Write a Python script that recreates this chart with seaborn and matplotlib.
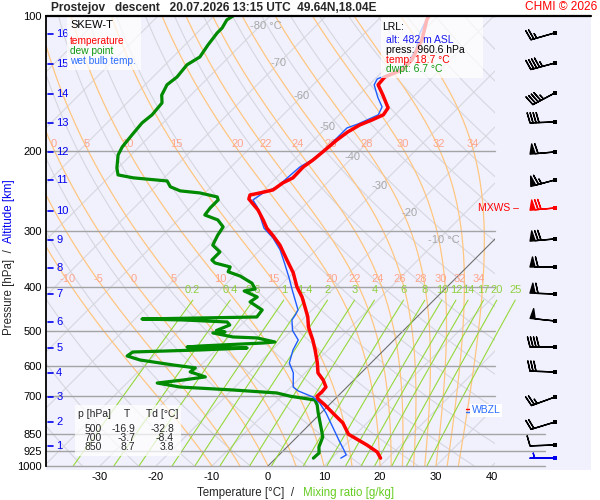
import numpy as np
import pandas as pd
import matplotlib
matplotlib.use("Agg")
import matplotlib.pyplot as plt
import seaborn as sns
from matplotlib.patches import Rectangle
from matplotlib.lines import Line2D
from matplotlib.transforms import blended_transform_factory, offset_copy

# ---- sounding (descent) ----
temp_p = [100.0, 102.0, 105.5, 113.0, 119.0, 125.2, 131.8, 136.6, 142.2, 149.9,
          160.0, 165.8, 170.2, 174.6, 181.0, 188.5, 200.5, 208.9, 216.5, 228.9,
          234.9, 243.5, 247.3, 249.9, 255.0, 261.5, 269.8, 283.9, 296.0, 306.8,
          323.0, 348.5, 372.0, 400.0, 421.1, 443.1, 466.5, 491.0, 524.8, 552.3,
          590.0, 621.0, 644.0, 667.6, 684.6, 700.0, 709.8, 732.1, 762.4, 802.5,
          850.0, 898.0, 930.9, 960.6]
temp_t = [-51.6, -51.3, -50.4, -48.6, -47.7, -46.8, -46.8, -48.6, -48.4, -45.7,
          -42.5, -42.1, -43.2, -44.5, -45.4, -45.9, -46.3, -46.6, -47.1, -47.0,
          -47.9, -48.4, -50.2, -51.6, -51.1, -49.5, -47.5, -44.8, -42.7, -40.4,
          -37.3, -33.4, -30.0, -26.8, -24.1, -21.8, -19.5, -17.6, -14.5, -12.3,
          -9.6, -7.7, -5.5, -3.75, -3.6, -3.7, -3.0, -0.7, 2.1, 5.7,
          8.7, 13.9, 17.0, 18.7]

wetbulb_p = [100.0, 102.0, 109.0, 119.0, 126.5, 133.2, 138.0, 142.2, 151.5, 159.2,
             165.8, 170.2, 173.8, 177.3, 186.6, 200.5, 208.9, 216.5, 228.9, 239.6,
             247.3, 256.3, 265.5, 279.2, 296.0, 311.5, 331.1, 354.7, 382.1, 406.3,
             427.6, 450.0, 461.4, 473.7, 500.0, 524.8, 552.3, 590.0, 621.0, 667.6,
             681.1, 702.5, 724.6, 762.4, 819.3, 875.4, 921.4, 945.2, 960.6]
wetbulb_t = [-51.8, -51.4, -50.2, -47.9, -47.1, -47.7, -49.6, -49.1, -46.25, -43.75,
             -43.0, -44.1, -45.0, -46.25, -46.25, -46.4, -46.8, -47.7, -48.0, -48.2,
             -49.6, -50.2, -48.2, -45.9, -43.2, -39.8, -36.4, -33.2, -29.8, -27.1,
             -24.8, -22.5, -22.1, -21.8, -19.8, -17.1, -16.25, -14.6, -12.1, -9.6,
             -8.0, -4.3, -2.0, 0.9, 4.6, 8.0, 10.7, 12.0, 11.6]

dewpt_p = [100.0, 102.0, 106.3, 109.0, 115.9, 123.3, 128.4, 136.6, 142.2, 149.9,
           156.0, 165.8, 172.8, 183.8, 195.4, 203.6, 217.6, 225.5, 228.9, 232.6,
           239.6, 244.7, 247.3, 252.4, 256.3, 267.1, 276.8, 283.9, 294.2, 306.8,
           323.0, 334.5, 348.5, 353.9, 361.1, 370.1, 378.3, 392.4, 404.3, 408.4,
           421.1, 431.9, 450.0, 466.5, 468.9, 471.3, 473.7, 478.6, 486.0, 500.0,
           503.7, 506.2, 516.7, 519.3, 530.2, 533.0, 541.2, 544.0, 546.8, 552.3,
           558.0, 569.5, 581.3, 596.3, 605.3, 617.8, 633.9, 644.0, 654.0, 667.6,
           677.8, 688.1, 700.0, 713.4, 732.1, 762.4, 819.3, 862.0, 907.4, 935.6,
           960.6]
dewpt_t = [-86.6, -87.0, -86.4, -86.4, -85.9, -85.2, -86.1, -85.7, -86.1, -85.2,
           -83.75, -83.4, -83.75, -83.4, -83.0, -82.3, -80.2, -78.75, -75.5, -68.9,
           -67.3, -64.8, -60.9, -57.1, -56.4, -56.4, -56.1, -52.9, -50.7, -50.2,
           -49.3, -46.8, -46.8, -45.7, -42.3, -41.8, -38.9, -35.5, -33.9, -35.5,
           -32.1, -32.5, -28.9, -28.6, -38.6, -48.75, -41.25, -33.0, -32.0, -33.4,
           -31.6, -33.6, -29.3, -24.8, -20.9, -22.9, -33.6, -35.7, -24.8, -32.9,
           -44.5, -44.8, -41.8, -35.0, -30.5, -30.7, -27.1, -30.5, -34.6, -29.8,
           -19.8, -11.5, -8.4, -3.4, -2.1, -0.5, 2.5, 4.6, 5.7, 6.8,
           6.7]

# launch / lowest level info
lrl_alt = 482
lrl_press = 960.6
lrl_temp = 18.7
lrl_dwpt = 6.7
wbzl_p = 752.0

# altitude scale (km) and its pressure
alt_km = [16, 15, 14, 13, 12, 11, 10, 9, 8, 7, 6, 5, 4, 3, 2, 1]
alt_p = [109.6, 127.8, 149.0, 172.8, 200.5, 231.4, 271.2, 314.6, 363.0, 414.7,
         478.6, 546.7, 621.3, 702.5, 798.4, 902.7]

# wind
wind_p = [109.0, 127.2, 148.2, 172.0, 200.5, 231.4, 267.1, 312.9, 361.2, 414.7,
          476.1, 543.9, 618.1, 702.5, 798.4, 898.1, 960.6]
wind_dir = [254, 255, 242, 268, 265, 255, 265, 265, 270, 272, 276, 270, 272, 250, 253, 268, 270]
wind_spd = [25, 45, 45, 40, 60, 65, 70, 70, 60, 60, 50, 40, 30, 25, 20, 10, 5]
mxws_idx = 6

# table
table_p = [500, 700, 850]
table_t = [-16.9, -3.7, 8.7]
table_td = [-32.8, -8.4, 3.8]

# diagram lines
p_levels = [200, 300, 400, 500, 600, 700, 850, 925, 1000]
p_long = [850, 925, 1000]
t_ticks = [-30, -20, -10, 0, 10, 20, 30, 40]
isotherms = list(range(-130, 50, 10))
iso_label_t = [-80, -70, -60, -50, -40, -30, -20, -10]
iso_label_p = [105.5, 127.4, 150.7, 176.4, 205.9, 238.8, 273.7, 314.6]
dry_theta = list(range(230, 470, 10))
theta_w = [-10, -5, 0, 5, 10, 15, 20, 22, 24, 26, 28, 30, 32, 34]
theta_w_label_p = [200, 400]
mix_ratio = [0.2, 0.4, 0.6, 1, 1.4, 2, 3, 4, 6, 8, 10, 12, 14, 17, 20, 25]
mix_top_p = 428.0
mix_label_p = 416.0

SKEW = 195.4 / 5.6
X_LEFT = (46 - 268) / 5.6
X_RIGHT = (495 - 268) / 5.6


def skew_x(t, p):
    return np.asarray(t, float) + SKEW * np.log(1000.0 / np.asarray(p, float))


def fx(x):
    return x / 600.0


def fy(y):
    return 1.0 - y / 500.0


def moist_adiabats(thw, pg):
    rd, cp, lv, eps = 287.04, 1005.7, 2.501e6, 0.622

    def slope(tk, p):
        es = 6.112 * np.exp(17.67 * (tk - 273.15) / (tk - 29.65))
        rs = eps * es / (p - es)
        return (rd * tk + lv * rs) / (cp + lv * lv * rs * eps / (rd * tk * tk))

    tk = np.asarray(thw, float) + 273.15
    out = [tk.copy()]
    lp = np.log(pg)
    for i in range(1, len(pg)):
        h = lp[i] - lp[i - 1]
        p0, p1, pm = pg[i - 1], pg[i], np.exp(0.5 * (lp[i] + lp[i - 1]))
        k1 = slope(tk, p0)
        k2 = slope(tk + 0.5 * h * k1, pm)
        k3 = slope(tk + 0.5 * h * k2, pm)
        k4 = slope(tk + h * k3, p1)
        tk = tk + h * (k1 + 2 * k2 + 2 * k3 + k4) / 6.0
        out.append(tk.copy())
    return np.array(out) - 273.15


def dewpoint_from_w(w, p):
    e = w * p / (622.0 + w)
    a = np.log(e / 6.112)
    return 243.5 * a / (17.67 - a)


sns.set_theme(style="white")
plt.rcParams['font.family'] = ['Liberation Sans', 'DejaVu Sans']

fig = plt.figure(figsize=(6, 5), dpi=100)
fig.patch.set_facecolor('white')
fig.add_artist(Rectangle((fx(46), fy(470)), fx(591) - fx(46), fy(16) - fy(470),
                         transform=fig.transFigure, facecolor='#f1f1fe',
                         edgecolor='none', zorder=-5))

ax = fig.add_axes([fx(46), fy(466), fx(495) - fx(46), fy(16) - fy(466)])
ax.set_facecolor('none')
ax.set_yscale('log')
ax.set_ylim(1000, 100)
ax.set_xlim(X_LEFT, X_RIGHT)

pg = np.exp(np.linspace(np.log(1000), np.log(100), 181))

# isotherms
for t in isotherms:
    c, lw = ('#6e6e6e', 0.8) if t == 0 else ('#d6d6de', 0.8)
    ax.plot(skew_x(np.full_like(pg, t), pg), pg, color=c, lw=lw, zorder=1.2 if t == 0 else 1)

# dry adiabats
for th in dry_theta:
    tt = th * (pg / 1000.0) ** 0.2857 - 273.15
    ax.plot(skew_x(tt, pg), pg, color='#d6d6de', lw=0.8, zorder=1)

# moist adiabats
ma = moist_adiabats(theta_w, pg)
label_shift = {200: -1, 400: -3}
for j, thw in enumerate(theta_w):
    ax.plot(skew_x(ma[:, j], pg), pg, color='#ffc680', lw=0.9, zorder=1.1)
    for lp in theta_w_label_p:
        tl = np.interp(np.log(lp), np.log(pg[::-1]), ma[::-1, j])
        xl = skew_x(tl, lp)
        if X_LEFT + 1 < xl < X_RIGHT:
            ax.annotate(f'{thw}', (xl, lp), xytext=(label_shift[lp], 2),
                        textcoords='offset points', ha='center', va='bottom',
                        color='#ffa58c', fontsize=8, zorder=2)

# mixing ratio lines
pm = np.exp(np.linspace(np.log(1000), np.log(mix_top_p), 60))
for w in mix_ratio:
    ax.plot(skew_x(dewpoint_from_w(w, pm), pm), pm, color='#95d83a', lw=0.8,
            zorder=1.3, clip_on=False)
    xl = skew_x(dewpoint_from_w(w, mix_top_p), mix_top_p)
    ax.text(xl, mix_label_p, f'{w:g}', ha='center', va='bottom', color='#90d040',
            fontsize=8, zorder=2, clip_on=False)

# pressure lines
for p in p_levels:
    xr = (545 - 268) / 5.6 if p in p_long else X_RIGHT
    ax.plot([X_LEFT, xr], [p, p], color='#a4a4a4', lw=1.0, zorder=1.5, clip_on=False)

# isotherm labels
for t, p in zip(iso_label_t, iso_label_p):
    if t in (-80, -10):
        ax.annotate(f'{t} °C', (skew_x(t, p), p), xytext=(-7, 0), textcoords='offset points',
                    ha='left', va='center', color='#a8a8a8', fontsize=8, zorder=2)
    else:
        ax.text(skew_x(t, p), p, f'{t}', ha='center', va='center', color='#a8a8a8',
                fontsize=8, zorder=2)

# profiles
profiles = pd.DataFrame({
    'x': np.concatenate([skew_x(dewpt_t, dewpt_p), skew_x(wetbulb_t, wetbulb_p),
                         skew_x(temp_t, temp_p)]),
    'p': np.concatenate([dewpt_p, wetbulb_p, temp_p]),
    'kind': ['dew'] * len(dewpt_p) + ['wet'] * len(wetbulb_p) + ['temp'] * len(temp_p),
})
styles = {'dew': ('#008a00', 2.3), 'wet': ('#1f5cff', 1.0), 'temp': ('#ff0000', 2.5)}
for kind, (col, lw) in styles.items():
    sub = profiles[profiles['kind'] == kind]
    sns.lineplot(data=sub, x='x', y='p', sort=False, estimator=None, color=col,
                 lw=lw, ax=ax, zorder=3)

ax.set_xlabel('')
ax.set_ylabel('')
ax.set_xticks(t_ticks)
ax.set_xticklabels([str(t) for t in t_ticks])
ax.set_yticks([100] + p_levels)
ax.set_yticklabels([str(p) for p in [100] + p_levels])
ax.yaxis.set_minor_locator(matplotlib.ticker.NullLocator())
ax.tick_params(axis='both', length=0, labelsize=8, colors='black')
ax.tick_params(axis='y', pad=3)
ax.tick_params(axis='x', pad=4)
for s in ['top', 'right', 'bottom']:
    ax.spines[s].set_visible(False)
ax.spines['left'].set_color('black')
ax.spines['left'].set_linewidth(1.3)

# altitude scale
tr = blended_transform_factory(ax.transAxes, ax.transData)
for km, p in zip(alt_km, alt_p):
    ax.plot([0.005, 0.016], [p, p], transform=tr, color='#0000ee', lw=1.2, zorder=4, clip_on=False)
    ax.text(0.0225, p, str(km), transform=tr, color='#0000ee', fontsize=8, va='center',
            ha='left', zorder=4)

# wind barbs
bax = fig.add_axes([fx(495), fy(466), fx(591) - fx(495), fy(16) - fy(466)])
bax.set_yscale('log')
bax.set_ylim(1000, 100)
bax.set_xlim(495, 591)
bax.axis('off')
rad = np.deg2rad(wind_dir)
u = -np.array(wind_spd) * np.sin(rad)
v = -np.array(wind_spd) * np.cos(rad)
cols = ['black'] * len(wind_p)
cols[mxws_idx] = '#ff0000'
cols[-1] = '#0000ee'
bx = np.full(len(wind_p), 555.0)
bax.barbs(bx, wind_p, u, v, length=6.0, lw=1.0, barbcolor=cols, flagcolor=cols,
          sizes=dict(spacing=0.12, height=0.4, width=0.2), clip_on=False)
bax.scatter(bx, wind_p, marker='s', s=7, c=cols, linewidths=0, zorder=4, clip_on=False)
bax.text(519, wind_p[mxws_idx], 'MXWS –', ha='right', va='center', color='#ff0000',
         fontsize=7.5, clip_on=False)
bax.text(472, wbzl_p, 'WBZL', ha='left', va='center', color='#2a6cff', fontsize=7.5,
         bbox=dict(facecolor='white', edgecolor='none', pad=1.2), clip_on=False, zorder=5)
bax.plot([466, 471], [wbzl_p, wbzl_p], color='#ff0000', lw=1,
         transform=offset_copy(bax.transData, fig, y=1.5, units='dots'), clip_on=False)
bax.plot([466, 471], [wbzl_p, wbzl_p], color='#2a6cff', lw=1,
         transform=offset_copy(bax.transData, fig, y=-1.5, units='dots'), clip_on=False)

# frame top line
fig.add_artist(Line2D([fx(46), fx(591)], [fy(15.5)] * 2, color='black', lw=1.6,
                      transform=fig.transFigure, zorder=6))

# white info boxes
for (x0, y0, x1, y1) in [(67, 17, 141, 70), (381, 17, 483, 78), (75, 405, 181, 456)]:
    fig.add_artist(Rectangle((fx(x0), fy(y1)), fx(x1) - fx(x0), fy(y0) - fy(y1),
                             transform=fig.transFigure, facecolor='white', alpha=0.72,
                             edgecolor='none', zorder=5))

fig.text(fx(70), fy(25), 'SKEW-T', fontsize=8, color='black', va='center', zorder=7)
fig.text(fx(70), fy(41), 'temperature', fontsize=7.3, color='#ff0000', va='center', zorder=7)
fig.text(fx(70), fy(51), 'dew point', fontsize=7.3, color='#119911', va='center', zorder=7)
fig.text(fx(70), fy(61), 'wet bulb temp.', fontsize=7.3, color='#2a6cff', va='center', zorder=7)

fig.text(fx(382), fy(27), 'LRL:', fontsize=7.5, color='black', va='center', zorder=7)
fig.text(fx(386), fy(40), f'alt: {lrl_alt} m ASL', fontsize=7.5, color='#1a1aee', va='center', zorder=7)
fig.text(fx(386), fy(50), f'press: {lrl_press:.1f} hPa', fontsize=7.5, color='black', va='center', zorder=7)
fig.text(fx(386), fy(60), f'temp: {lrl_temp:.1f} °C', fontsize=7.5, color='#ff0000', va='center', zorder=7)
fig.text(fx(386), fy(69), f'dwpt: {lrl_dwpt:.1f} °C', fontsize=7.5, color='#119911', va='center', zorder=7)

fig.text(fx(78), fy(414), 'p [hPa]', fontsize=7.5, va='center', zorder=7)
fig.text(fx(127), fy(414), 'T', fontsize=7.5, va='center', ha='center', zorder=7)
fig.text(fx(146), fy(414), 'Td [°C]', fontsize=7.5, va='center', zorder=7)
for i, (p, t, td) in enumerate(zip(table_p, table_t, table_td)):
    yy = fy(429 + 9 * i)
    fig.text(fx(102), yy, str(p), fontsize=7.5, va='center', ha='right', zorder=7)
    fig.text(fx(135), yy, f'{t:.1f}', fontsize=7.5, va='center', ha='right', zorder=7)
    fig.text(fx(174), yy, f'{td:.1f}', fontsize=7.5, va='center', ha='right', zorder=7)

# titles and axis labels
fig.text(fx(51), fy(7.5), 'Prostejov   descent   20.07.2026 13:15 UTC  49.64N,18.04E',
         fontsize=8.6, fontweight='bold', va='center', ha='left')
fig.text(fx(597), fy(7.5), 'CHMI © 2026', fontsize=8.6, color='#ff0000', va='center', ha='right')
fig.text(fx(197), fy(493), 'Temperature [°C]  /', fontsize=8.3, va='center', ha='left')
fig.text(fx(303), fy(493), 'Mixing ratio [g/kg]', fontsize=8.3, color='#66cc22', va='center', ha='left')
fig.text(fx(9), fy(335), 'Pressure [hPa]  /', fontsize=8.3, rotation=90, rotation_mode='anchor',
         va='center', ha='left')
fig.text(fx(9), fy(243), 'Altitude [km]', fontsize=8.3, color='#0000ee', rotation=90,
         rotation_mode='anchor', va='center', ha='left')

fig.savefig('out.png', dpi=100)
